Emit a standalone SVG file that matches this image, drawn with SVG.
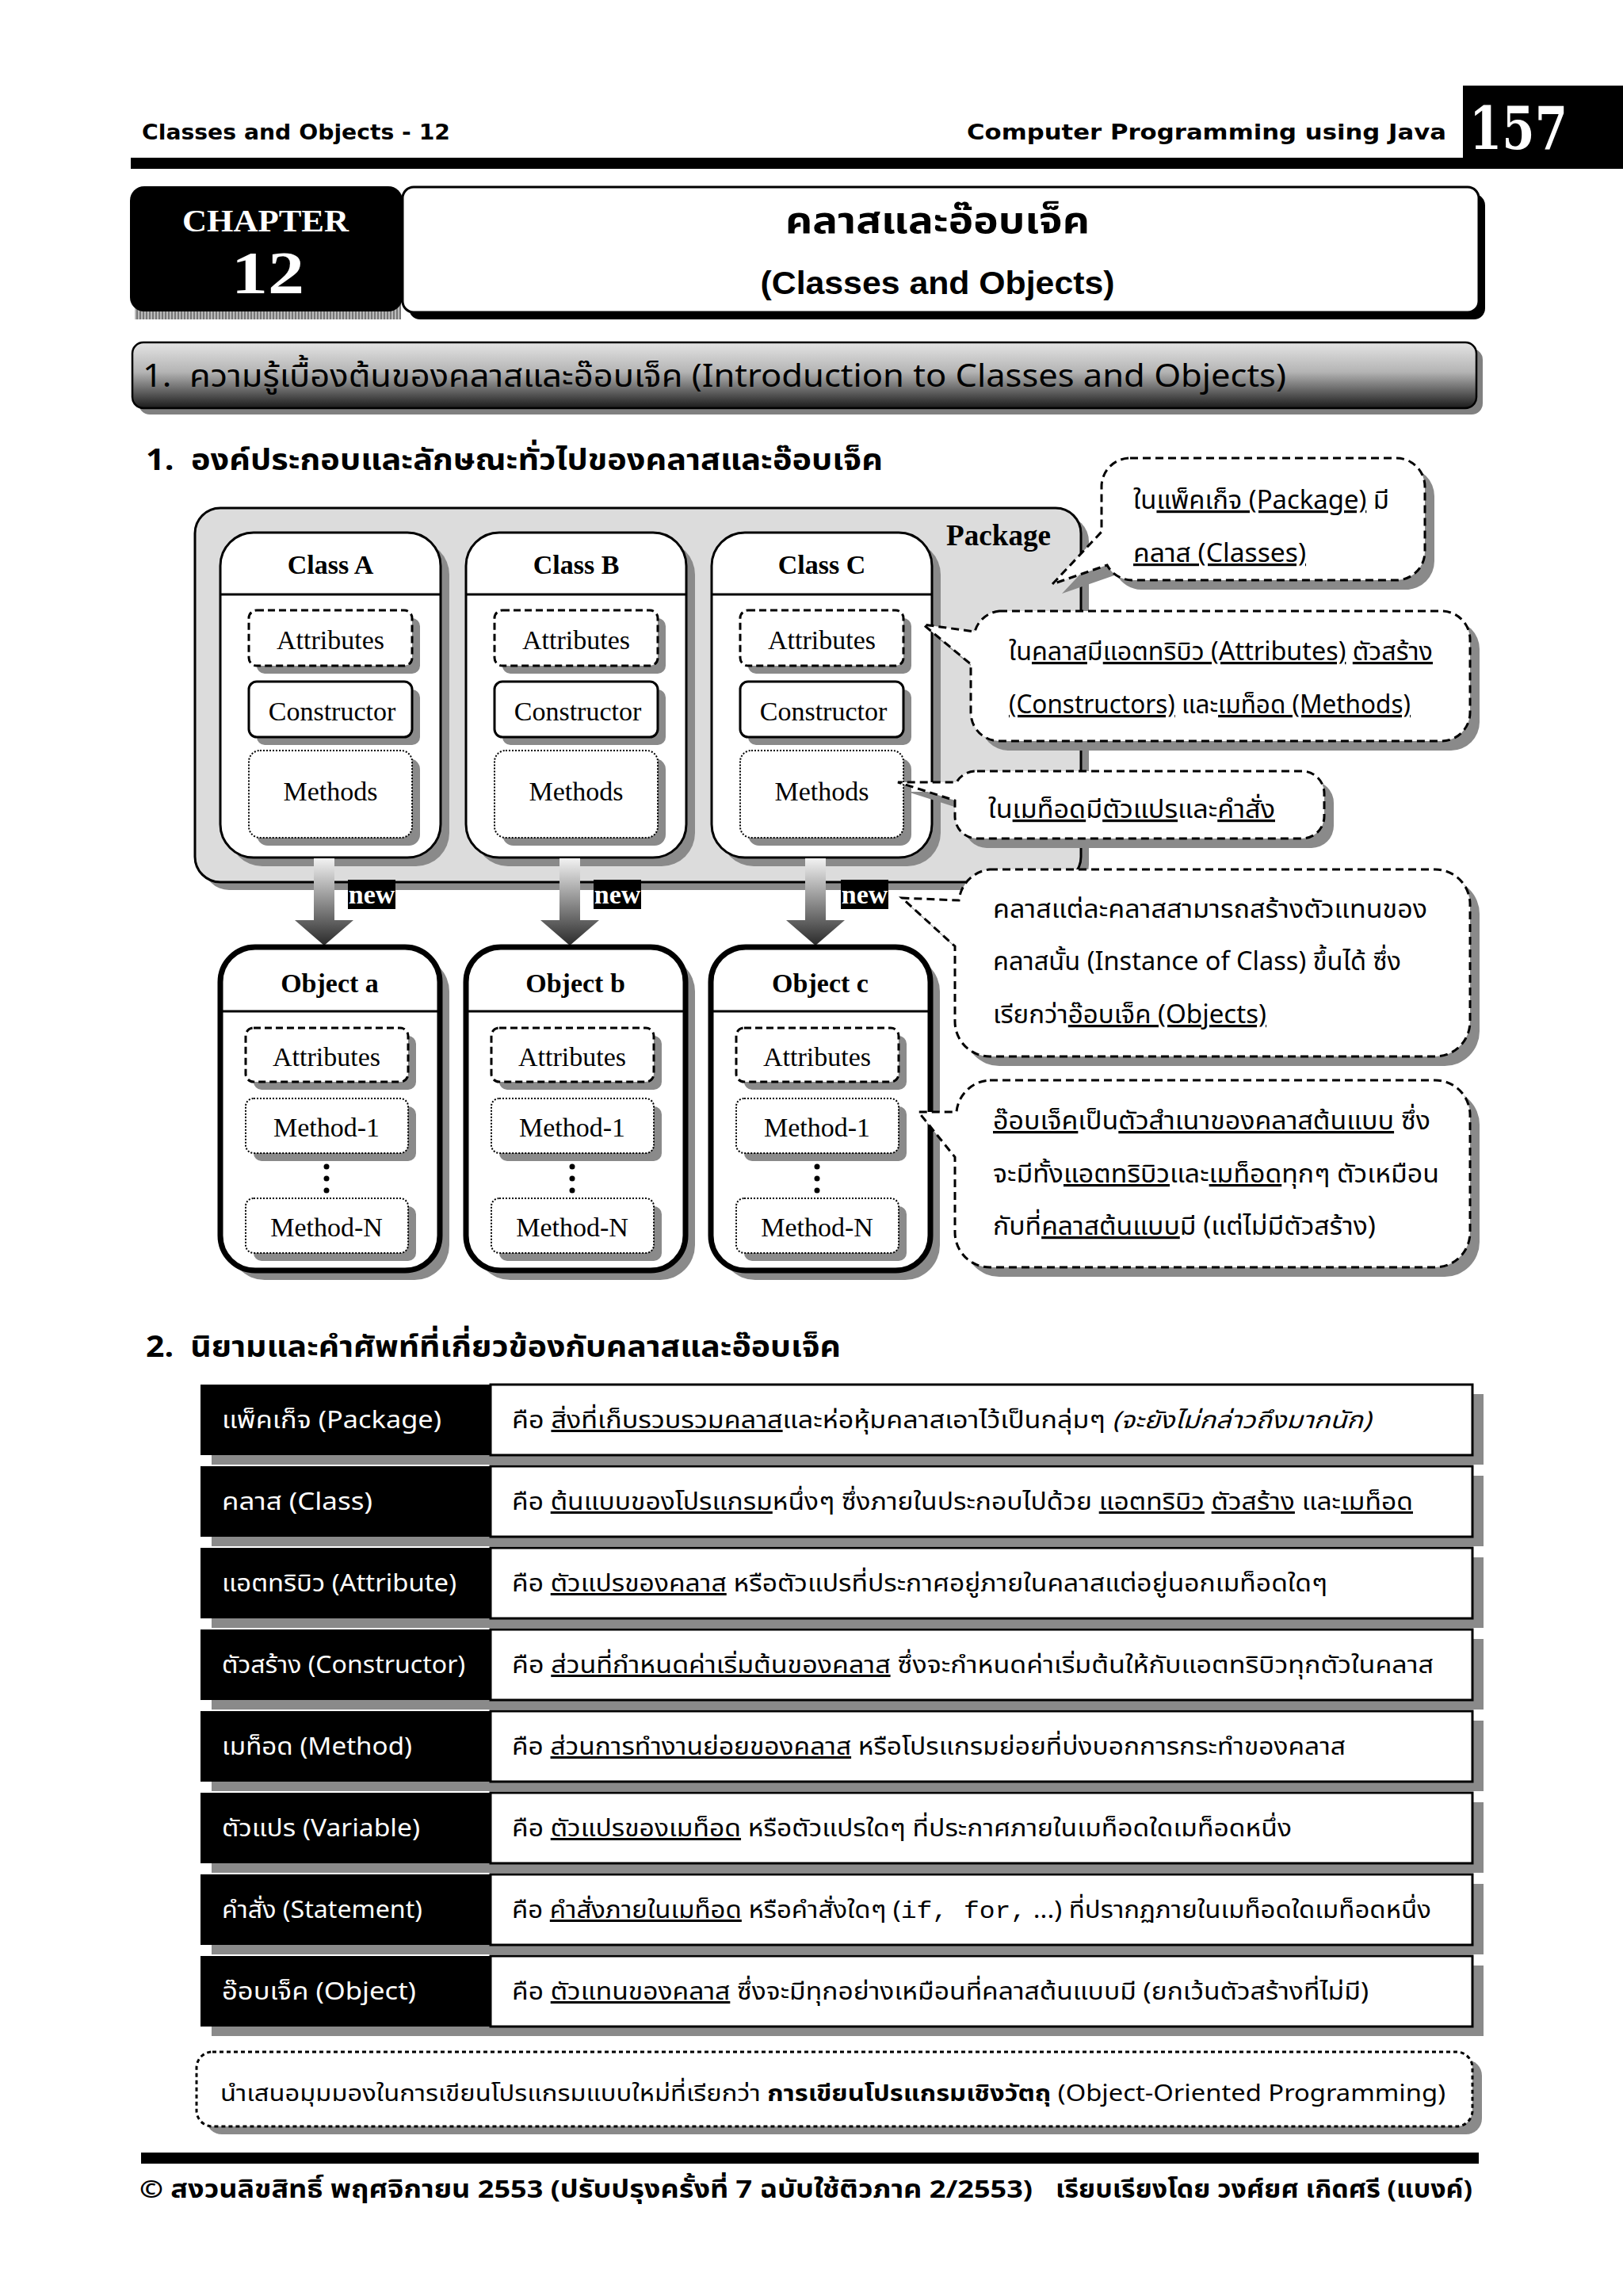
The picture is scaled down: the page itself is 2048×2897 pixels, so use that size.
<svg xmlns="http://www.w3.org/2000/svg" width="2048" height="2897" viewBox="0 0 2048 2897">
<style>
.th{font-family:"Noto Sans Thai","Noto Sans","DejaVu Sans",sans-serif;}
.sf{font-family:"Liberation Serif","Times New Roman",serif;}
.u{text-decoration:underline;}
.shadow{fill:#8a8a8a;}
.cls{fill:#fff;stroke:#000;stroke-width:3;}
.obj{fill:#fff;stroke:#000;stroke-width:7;}
.attr{fill:#fff;stroke:#000;stroke-width:3;stroke-dasharray:9 5;}
.ctor{fill:#fff;stroke:#000;stroke-width:3;}
.meth{fill:#fff;stroke:#000;stroke-width:2;stroke-dasharray:2 2;}
.lbl{font-family:"Liberation Serif","Times New Roman",serif;font-size:34px;text-anchor:middle;fill:#000;}
.hdr{font-family:"Liberation Serif","Times New Roman",serif;font-size:34px;font-weight:bold;text-anchor:middle;fill:#000;}
.callout{fill:#fff;stroke:#000;stroke-width:3;stroke-dasharray:10 6;}
.ct{font-size:32px;fill:#000;}
.cell{fill:#000;}
.defcell{fill:#fff;stroke:#000;stroke-width:3;}
.rh{font-size:30px;fill:#fff;}
.rd{font-size:30px;fill:#000;}
</style>
<defs>
<linearGradient id="barg" x1="0" y1="0" x2="0" y2="1">
<stop offset="0" stop-color="#e4e4e4"/>
<stop offset="0.45" stop-color="#b4b4b4"/>
<stop offset="1" stop-color="#1a1a1a"/>
</linearGradient>
<linearGradient id="arrg" gradientUnits="userSpaceOnUse" x1="0" y1="1083" x2="0" y2="1193">
<stop offset="0" stop-color="#f2f2f2"/>
<stop offset="1" stop-color="#2a2a2a"/>
</linearGradient>
<pattern id="hatch" width="4" height="4" patternUnits="userSpaceOnUse">
<rect width="4" height="4" fill="#bbb"/>
<rect width="2" height="4" fill="#777"/>
</pattern>
<path id="c1" d="M1426,578 H1762 A36,36 0 0 1 1798,614 V696 A36,36 0 0 1 1762,732 H1428 A36,36 0 0 1 1397,713 L1328,737 L1390,671 V614 A36,36 0 0 1 1426,578 Z"/>
<path id="c2" d="M1261,771 H1819 A36,36 0 0 1 1855,807 V899 A36,36 0 0 1 1819,935 H1261 A36,36 0 0 1 1225,899 V838 L1165,788 L1230,797 A36,36 0 0 1 1261,771 Z"/>
<path id="c3" d="M1233,973 H1643 A28,28 0 0 1 1671,1001 V1030 A28,28 0 0 1 1643,1058 H1233 A28,28 0 0 1 1205,1030 V1010 L1133,987 L1207,987 A28,28 0 0 1 1233,973 Z"/>
<path id="c4" d="M1249,1097 H1811 A44,44 0 0 1 1855,1141 V1289 A44,44 0 0 1 1811,1333 H1249 A44,44 0 0 1 1205,1289 V1194 L1138,1133 L1210,1136 A44,44 0 0 1 1249,1097 Z"/>
<path id="c5" d="M1249,1363 H1811 A44,44 0 0 1 1855,1407 V1555 A44,44 0 0 1 1811,1599 H1249 A44,44 0 0 1 1205,1555 V1460 L1159,1403 L1207,1403 A44,44 0 0 1 1249,1363 Z"/>
</defs>
<rect width="2048" height="2897" fill="#fff"/>

<!-- Page header -->
<g id="page-header">
<text x="179" y="176" font-family="DejaVu Sans,sans-serif" font-weight="bold" font-size="27" textLength="389" lengthAdjust="spacingAndGlyphs">Classes and Objects - 12</text>
<text x="1220" y="176" font-family="DejaVu Sans,sans-serif" font-weight="bold" font-size="27" textLength="605" lengthAdjust="spacingAndGlyphs">Computer Programming using Java</text>
<rect x="165" y="199" width="1700" height="14" fill="#000"/>
<rect x="1846" y="108" width="202" height="105" fill="#000"/>
<text x="1854" y="188" font-family="DejaVu Serif,serif" font-weight="bold" font-size="74" fill="#fff" textLength="124" lengthAdjust="spacingAndGlyphs">157</text>
</g>

<!-- Chapter title -->
<g id="chapter">
<rect x="170" y="380" width="336" height="23" fill="url(#hatch)"/>
<rect x="164" y="235" width="344" height="158" rx="18" fill="#000"/>
<text x="335" y="292" class="sf" font-weight="bold" font-size="40" fill="#fff" text-anchor="middle" textLength="210" lengthAdjust="spacingAndGlyphs">CHAPTER</text>
<text x="338" y="370" class="sf" font-weight="bold" font-size="76" fill="#fff" text-anchor="middle" textLength="92" lengthAdjust="spacingAndGlyphs">12</text>
</g>
<g id="title">
<rect x="516" y="245" width="1358" height="158" rx="14" fill="#000"/>
<rect x="508" y="236" width="1358" height="158" rx="14" fill="#fff" stroke="#000" stroke-width="3"/>
<text x="1183" y="294" class="th" font-weight="bold" font-size="46" text-anchor="middle" textLength="384" lengthAdjust="spacingAndGlyphs">คลาสและอ๊อบเจ็ค</text>
<text x="1183" y="371" font-family="Liberation Sans,Arial,sans-serif" font-weight="bold" font-size="40" text-anchor="middle" textLength="447" lengthAdjust="spacingAndGlyphs">(Classes and Objects)</text>
</g>

<!-- Section heading -->
<g id="section1">
<rect x="175" y="440" width="1696" height="83" rx="14" fill="#808080"/>
<rect x="167" y="432" width="1696" height="83" rx="14" fill="url(#barg)" stroke="#000" stroke-width="2.5"/>
<text x="180" y="488" class="th" font-size="40" fill="#000" textLength="1443" lengthAdjust="spacingAndGlyphs" xml:space="preserve">1.  ความรู้เบื้องต้นของคลาสและอ๊อบเจ็ค (Introduction to Classes and Objects)</text>
</g>
<text x="184" y="593" class="th" font-weight="bold" font-size="38" textLength="930" lengthAdjust="spacingAndGlyphs" xml:space="preserve">1.  องค์ประกอบและลักษณะทั่วไปของคลาสและอ๊อบเจ็ค</text>

<!-- Package -->
<g id="package">
<rect x="257" y="651" width="1117" height="472" rx="32" class="shadow"/>
<rect x="246" y="641" width="1118" height="472" rx="32" fill="#dcdcdc" stroke="#000" stroke-width="3"/>
<text x="1194" y="688" class="sf" font-weight="bold" font-size="37" textLength="132" lengthAdjust="spacingAndGlyphs">Package</text>
</g>

<!-- Classes -->
<g id="class-a">
<rect x="289" y="683" width="278" height="410" rx="42" class="shadow"/>
<rect x="278" y="672" width="278" height="410" rx="42" class="cls"/>
<line x1="278" y1="750" x2="556" y2="750" stroke="#000" stroke-width="3"/>
<text x="417" y="724" class="hdr">Class A</text>
<rect x="324" y="780" width="206" height="70" rx="10" class="shadow"/>
<rect x="314" y="770" width="206" height="70" rx="10" class="attr"/>
<text x="417" y="819" class="lbl">Attributes</text>
<rect x="324" y="870" width="206" height="70" rx="10" class="shadow"/>
<rect x="314" y="860" width="206" height="70" rx="10" class="ctor"/>
<text x="419" y="909" class="lbl">Constructor</text>
<rect x="324" y="957" width="206" height="110" rx="14" class="shadow"/>
<rect x="314" y="947" width="206" height="110" rx="14" class="meth"/>
<text x="417" y="1010" class="lbl">Methods</text>
</g>
<g id="class-b">
<rect x="599" y="683" width="278" height="410" rx="42" class="shadow"/>
<rect x="588" y="672" width="278" height="410" rx="42" class="cls"/>
<line x1="588" y1="750" x2="866" y2="750" stroke="#000" stroke-width="3"/>
<text x="727" y="724" class="hdr">Class B</text>
<rect x="634" y="780" width="206" height="70" rx="10" class="shadow"/>
<rect x="624" y="770" width="206" height="70" rx="10" class="attr"/>
<text x="727" y="819" class="lbl">Attributes</text>
<rect x="634" y="870" width="206" height="70" rx="10" class="shadow"/>
<rect x="624" y="860" width="206" height="70" rx="10" class="ctor"/>
<text x="729" y="909" class="lbl">Constructor</text>
<rect x="634" y="957" width="206" height="110" rx="14" class="shadow"/>
<rect x="624" y="947" width="206" height="110" rx="14" class="meth"/>
<text x="727" y="1010" class="lbl">Methods</text>
</g>
<g id="class-c">
<rect x="909" y="683" width="278" height="410" rx="42" class="shadow"/>
<rect x="898" y="672" width="278" height="410" rx="42" class="cls"/>
<line x1="898" y1="750" x2="1176" y2="750" stroke="#000" stroke-width="3"/>
<text x="1037" y="724" class="hdr">Class C</text>
<rect x="944" y="780" width="206" height="70" rx="10" class="shadow"/>
<rect x="934" y="770" width="206" height="70" rx="10" class="attr"/>
<text x="1037" y="819" class="lbl">Attributes</text>
<rect x="944" y="870" width="206" height="70" rx="10" class="shadow"/>
<rect x="934" y="860" width="206" height="70" rx="10" class="ctor"/>
<text x="1039" y="909" class="lbl">Constructor</text>
<rect x="944" y="957" width="206" height="110" rx="14" class="shadow"/>
<rect x="934" y="947" width="206" height="110" rx="14" class="meth"/>
<text x="1037" y="1010" class="lbl">Methods</text>
</g>

<!-- Connectors: new arrows -->
<g id="connectors">
<path d="M396,1083 H422 V1161 H446 L409,1193 L372,1161 H396 Z" fill="url(#arrg)"/>
<rect x="439" y="1110" width="60" height="37" fill="#000"/>
<text x="469" y="1140" class="hdr" style="fill:#fff">new</text>
<path d="M706,1083 H732 V1161 H756 L719,1193 L682,1161 H706 Z" fill="url(#arrg)"/>
<rect x="749" y="1110" width="60" height="37" fill="#000"/>
<text x="779" y="1140" class="hdr" style="fill:#fff">new</text>
<path d="M1016,1083 H1042 V1161 H1066 L1029,1193 L992,1161 H1016 Z" fill="url(#arrg)"/>
<rect x="1061" y="1110" width="60" height="37" fill="#000"/>
<text x="1091" y="1140" class="hdr" style="fill:#fff">new</text>
</g>

<!-- Objects -->
<g id="object-a">
<rect x="290" y="1207" width="277" height="408" rx="44" class="shadow"/>
<rect x="278" y="1195" width="277" height="408" rx="44" class="obj"/>
<line x1="278" y1="1276" x2="555" y2="1276" stroke="#000" stroke-width="3"/>
<text x="416" y="1252" class="hdr">Object a</text>
<rect x="320" y="1307" width="205" height="68" rx="10" class="shadow"/>
<rect x="310" y="1297" width="205" height="68" rx="10" class="attr"/>
<text x="412" y="1345" class="lbl">Attributes</text>
<rect x="320" y="1396" width="205" height="69" rx="10" class="shadow"/>
<rect x="310" y="1386" width="205" height="69" rx="10" class="meth"/>
<text x="412" y="1434" class="lbl">Method-1</text>
<circle cx="412" cy="1472" r="3.5"/><circle cx="412" cy="1487" r="3.5"/><circle cx="412" cy="1502" r="3.5"/>
<rect x="320" y="1522" width="205" height="69" rx="10" class="shadow"/>
<rect x="310" y="1512" width="205" height="69" rx="10" class="meth"/>
<text x="412" y="1560" class="lbl">Method-N</text>
</g>
<g id="object-b">
<rect x="600" y="1207" width="277" height="408" rx="44" class="shadow"/>
<rect x="588" y="1195" width="277" height="408" rx="44" class="obj"/>
<line x1="588" y1="1276" x2="865" y2="1276" stroke="#000" stroke-width="3"/>
<text x="726" y="1252" class="hdr">Object b</text>
<rect x="630" y="1307" width="205" height="68" rx="10" class="shadow"/>
<rect x="620" y="1297" width="205" height="68" rx="10" class="attr"/>
<text x="722" y="1345" class="lbl">Attributes</text>
<rect x="630" y="1396" width="205" height="69" rx="10" class="shadow"/>
<rect x="620" y="1386" width="205" height="69" rx="10" class="meth"/>
<text x="722" y="1434" class="lbl">Method-1</text>
<circle cx="722" cy="1472" r="3.5"/><circle cx="722" cy="1487" r="3.5"/><circle cx="722" cy="1502" r="3.5"/>
<rect x="630" y="1522" width="205" height="69" rx="10" class="shadow"/>
<rect x="620" y="1512" width="205" height="69" rx="10" class="meth"/>
<text x="722" y="1560" class="lbl">Method-N</text>
</g>
<g id="object-c">
<rect x="909" y="1207" width="277" height="408" rx="44" class="shadow"/>
<rect x="897" y="1195" width="277" height="408" rx="44" class="obj"/>
<line x1="897" y1="1276" x2="1174" y2="1276" stroke="#000" stroke-width="3"/>
<text x="1035" y="1252" class="hdr">Object c</text>
<rect x="939" y="1307" width="205" height="68" rx="10" class="shadow"/>
<rect x="929" y="1297" width="205" height="68" rx="10" class="attr"/>
<text x="1031" y="1345" class="lbl">Attributes</text>
<rect x="939" y="1396" width="205" height="69" rx="10" class="shadow"/>
<rect x="929" y="1386" width="205" height="69" rx="10" class="meth"/>
<text x="1031" y="1434" class="lbl">Method-1</text>
<circle cx="1031" cy="1472" r="3.5"/><circle cx="1031" cy="1487" r="3.5"/><circle cx="1031" cy="1502" r="3.5"/>
<rect x="939" y="1522" width="205" height="69" rx="10" class="shadow"/>
<rect x="929" y="1512" width="205" height="69" rx="10" class="meth"/>
<text x="1031" y="1560" class="lbl">Method-N</text>
</g>

<!-- Callouts -->
<g id="callout-package" class="th">
<use href="#c1" transform="translate(12,12)" class="shadow"/>
<use href="#c1" class="callout"/>
<text x="1430" y="642" class="ct" textLength="323" lengthAdjust="spacingAndGlyphs">ใน<tspan class="u">แพ็คเก็จ (Package)</tspan> มี</text>
<text x="1430" y="709" class="ct u" textLength="218" lengthAdjust="spacingAndGlyphs">คลาส (Classes)</text>
</g>
<g id="callout-class" class="th">
<use href="#c2" transform="translate(12,12)" class="shadow"/>
<use href="#c2" class="callout"/>
<text x="1273" y="833" class="ct" textLength="535" lengthAdjust="spacingAndGlyphs">ใน<tspan class="u">คลาส</tspan>มี<tspan class="u">แอตทริบิว (Attributes)</tspan> <tspan class="u">ตัวสร้าง</tspan></text>
<text x="1273" y="900" class="ct" textLength="507" lengthAdjust="spacingAndGlyphs"><tspan class="u">(Constructors)</tspan> และ<tspan class="u">เมท็อด (Methods)</tspan></text>
</g>
<g id="callout-method" class="th">
<use href="#c3" transform="translate(12,12)" class="shadow"/>
<use href="#c3" class="callout"/>
<text x="1247" y="1032" class="ct" textLength="362" lengthAdjust="spacingAndGlyphs">ใน<tspan class="u">เมท็อด</tspan>มี<tspan class="u">ตัวแปร</tspan>และ<tspan class="u">คำสั่ง</tspan></text>
</g>
<g id="callout-instance" class="th">
<use href="#c4" transform="translate(12,12)" class="shadow"/>
<use href="#c4" class="callout"/>
<text x="1253" y="1158" class="ct" textLength="548" lengthAdjust="spacingAndGlyphs">คลาสแต่ละคลาสสามารถสร้างตัวแทนของ</text>
<text x="1253" y="1224" class="ct" textLength="515" lengthAdjust="spacingAndGlyphs">คลาสนั้น (Instance of Class) ขึ้นได้ ซึ่ง</text>
<text x="1253" y="1291" class="ct" textLength="345" lengthAdjust="spacingAndGlyphs">เรียกว่า<tspan class="u">อ๊อบเจ็ค (Objects)</tspan></text>
</g>
<g id="callout-object" class="th">
<use href="#c5" transform="translate(12,12)" class="shadow"/>
<use href="#c5" class="callout"/>
<text x="1253" y="1425" class="ct" textLength="552" lengthAdjust="spacingAndGlyphs"><tspan class="u">อ๊อบเจ็ค</tspan>เป็น<tspan class="u">ตัวสำเนาของคลาสต้นแบบ</tspan> ซึ่ง</text>
<text x="1253" y="1492" class="ct" textLength="563" lengthAdjust="spacingAndGlyphs">จะมีทั้ง<tspan class="u">แอตทริบิว</tspan>และ<tspan class="u">เมท็อด</tspan>ทุกๆ ตัวเหมือน</text>
<text x="1253" y="1558" class="ct" textLength="483" lengthAdjust="spacingAndGlyphs">กับที่<tspan class="u">คลาสต้นแบบ</tspan>มี (แต่ไม่มีตัวสร้าง)</text>
</g>

<!-- Section 2 -->
<text x="184" y="1712" class="th" font-weight="bold" font-size="38" textLength="877" lengthAdjust="spacingAndGlyphs" xml:space="preserve">2.  นิยามและคำศัพท์ที่เกี่ยวข้องกับคลาสและอ๊อบเจ็ค</text>

<g id="row-package" class="th">
<rect x="267" y="1759" width="1605" height="89" class="shadow"/>
<rect x="253" y="1747" width="366" height="89" class="cell"/>
<rect x="619" y="1747" width="1239" height="89" class="defcell"/>
<text x="280" y="1802" class="rh" textLength="277" lengthAdjust="spacingAndGlyphs">แพ็คเก็จ (Package)</text>
<text x="646" y="1802" class="rd" textLength="1084" lengthAdjust="spacingAndGlyphs">คือ <tspan class="u">สิ่งที่เก็บรวบรวมคลาส</tspan>และห่อหุ้มคลาสเอาไว้เป็นกลุ่มๆ <tspan font-style="italic">(จะยังไม่กล่าวถึงมากนัก)</tspan></text>
</g>
<g id="row-class" class="th">
<rect x="267" y="1862" width="1605" height="89" class="shadow"/>
<rect x="253" y="1850" width="366" height="89" class="cell"/>
<rect x="619" y="1850" width="1239" height="89" class="defcell"/>
<text x="280" y="1905" class="rh" textLength="190" lengthAdjust="spacingAndGlyphs">คลาส (Class)</text>
<text x="646" y="1905" class="rd" textLength="1137" lengthAdjust="spacingAndGlyphs">คือ <tspan class="u">ต้นแบบของโปรแกรม</tspan>หนึ่งๆ ซึ่งภายในประกอบไปด้วย <tspan class="u">แอตทริบิว</tspan> <tspan class="u">ตัวสร้าง</tspan> และ<tspan class="u">เมท็อด</tspan></text>
</g>
<g id="row-attribute" class="th">
<rect x="267" y="1965" width="1605" height="89" class="shadow"/>
<rect x="253" y="1953" width="366" height="89" class="cell"/>
<rect x="619" y="1953" width="1239" height="89" class="defcell"/>
<text x="280" y="2008" class="rh" textLength="296" lengthAdjust="spacingAndGlyphs">แอตทริบิว (Attribute)</text>
<text x="646" y="2008" class="rd" textLength="1029" lengthAdjust="spacingAndGlyphs">คือ <tspan class="u">ตัวแปรของคลาส</tspan> หรือตัวแปรที่ประกาศอยู่ภายในคลาสแต่อยู่นอกเมท็อดใดๆ</text>
</g>
<g id="row-constructor" class="th">
<rect x="267" y="2068" width="1605" height="89" class="shadow"/>
<rect x="253" y="2056" width="366" height="89" class="cell"/>
<rect x="619" y="2056" width="1239" height="89" class="defcell"/>
<text x="280" y="2111" class="rh" textLength="307" lengthAdjust="spacingAndGlyphs">ตัวสร้าง (Constructor)</text>
<text x="646" y="2111" class="rd" textLength="1163" lengthAdjust="spacingAndGlyphs">คือ <tspan class="u">ส่วนที่กำหนดค่าเริ่มต้นของคลาส</tspan> ซึ่งจะกำหนดค่าเริ่มต้นให้กับแอตทริบิวทุกตัวในคลาส</text>
</g>
<g id="row-method" class="th">
<rect x="267" y="2171" width="1605" height="89" class="shadow"/>
<rect x="253" y="2159" width="366" height="89" class="cell"/>
<rect x="619" y="2159" width="1239" height="89" class="defcell"/>
<text x="280" y="2214" class="rh" textLength="240" lengthAdjust="spacingAndGlyphs">เมท็อด (Method)</text>
<text x="646" y="2214" class="rd" textLength="1052" lengthAdjust="spacingAndGlyphs">คือ <tspan class="u">ส่วนการทำงานย่อยของคลาส</tspan> หรือโปรแกรมย่อยที่บ่งบอกการกระทำของคลาส</text>
</g>
<g id="row-variable" class="th">
<rect x="267" y="2274" width="1605" height="89" class="shadow"/>
<rect x="253" y="2262" width="366" height="89" class="cell"/>
<rect x="619" y="2262" width="1239" height="89" class="defcell"/>
<text x="280" y="2317" class="rh" textLength="250" lengthAdjust="spacingAndGlyphs">ตัวแปร (Variable)</text>
<text x="646" y="2317" class="rd" textLength="984" lengthAdjust="spacingAndGlyphs">คือ <tspan class="u">ตัวแปรของเมท็อด</tspan> หรือตัวแปรใดๆ ที่ประกาศภายในเมท็อดใดเมท็อดหนึ่ง</text>
</g>
<g id="row-statement" class="th">
<rect x="267" y="2377" width="1605" height="89" class="shadow"/>
<rect x="253" y="2365" width="366" height="89" class="cell"/>
<rect x="619" y="2365" width="1239" height="89" class="defcell"/>
<text x="280" y="2420" class="rh" textLength="253" lengthAdjust="spacingAndGlyphs">คำสั่ง (Statement)</text>
<text x="646" y="2420" class="rd" textLength="1160" lengthAdjust="spacingAndGlyphs">คือ <tspan class="u">คำสั่งภายในเมท็อด</tspan> หรือคำสั่งใดๆ (<tspan font-family="Liberation Mono,monospace">if, for,</tspan> ...) ที่ปรากฏภายในเมท็อดใดเมท็อดหนึ่ง</text>
</g>
<g id="row-object" class="th">
<rect x="267" y="2480" width="1605" height="89" class="shadow"/>
<rect x="253" y="2468" width="366" height="89" class="cell"/>
<rect x="619" y="2468" width="1239" height="89" class="defcell"/>
<text x="280" y="2523" class="rh" textLength="245" lengthAdjust="spacingAndGlyphs">อ๊อบเจ็ค (Object)</text>
<text x="646" y="2523" class="rd" textLength="1081" lengthAdjust="spacingAndGlyphs">คือ <tspan class="u">ตัวแทนของคลาส</tspan> ซึ่งจะมีทุกอย่างเหมือนที่คลาสต้นแบบมี (ยกเว้นตัวสร้างที่ไม่มี)</text>
</g>

<!-- Note box -->
<g id="note" class="th">
<rect x="260" y="2599" width="1610" height="94" rx="20" class="shadow"/>
<rect x="248" y="2589" width="1610" height="94" rx="20" fill="#fff" stroke="#000" stroke-width="3" stroke-dasharray="5 4"/>
<text x="278" y="2651" font-size="29" textLength="1546" lengthAdjust="spacingAndGlyphs">นำเสนอมุมมองในการเขียนโปรแกรมแบบใหม่ที่เรียกว่า <tspan font-weight="bold">การเขียนโปรแกรมเชิงวัตถุ</tspan> (Object-Oriented Programming)</text>
</g>

<!-- Footer -->
<g id="footer">
<rect x="178" y="2716" width="1688" height="14" fill="#000"/>
<text x="176" y="2773" class="th" font-weight="bold" font-size="31" textLength="1127" lengthAdjust="spacingAndGlyphs">© สงวนลิขสิทธิ์ พฤศจิกายน 2553 (ปรับปรุงครั้งที่ 7 ฉบับใช้ติวภาค 2/2553)</text>
<text x="1332" y="2773" class="th" font-weight="bold" font-size="31" textLength="526" lengthAdjust="spacingAndGlyphs">เรียบเรียงโดย วงศ์ยศ เกิดศรี (แบงค์)</text>
</g>
</svg>
